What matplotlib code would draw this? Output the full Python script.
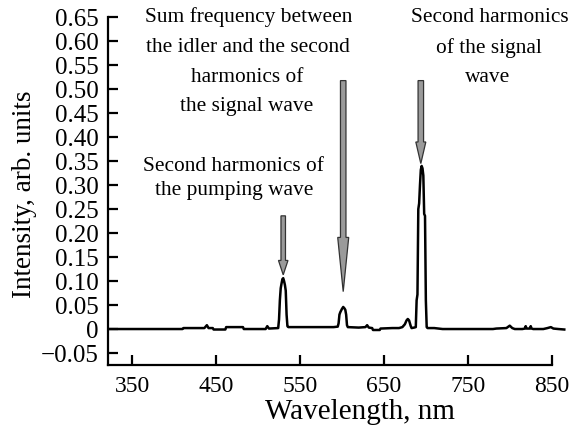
import matplotlib
matplotlib.use("Agg")
import matplotlib.pyplot as plt
from matplotlib.patches import Polygon
import numpy as np

plt.rcParams['font.family'] = ['Liberation Serif', 'DejaVu Serif']
plt.rcParams['mathtext.fontset'] = 'stix'

# Spectrum (wavelength nm, intensity arb. units)
wavelength = [322, 410, 411, 436, 439, 441, 446, 447, 461, 462, 482, 483, 509, 511, 513,
              524, 525, 526, 527, 528, 529, 530, 531, 532, 533, 534, 535, 536,
              560, 590, 595, 596, 597, 598, 600, 601.5, 603, 604, 605, 606, 607,
              620, 628, 630, 632, 636, 637, 645, 646, 660, 668, 672, 675, 677, 678.5, 680, 682, 683,
              686, 688, 689, 690, 691, 692, 693, 694, 695, 696, 697, 698, 699, 700, 701, 702,
              710, 720, 760, 780, 784, 796, 800, 803, 806, 815, 818, 819, 820, 822, 824, 825, 826,
              828, 840, 845, 849, 852, 858, 865]
intensity = [0.000, 0.000, 0.002, 0.002, 0.008, 0.002, 0.002, -0.001, -0.001, 0.004, 0.004, 0.000, 0.000, 0.006, 0.001,
             0.002, 0.020, 0.060, 0.085, 0.095, 0.104, 0.106, 0.100, 0.092, 0.080, 0.030, 0.006, 0.004,
             0.004, 0.004, 0.005, 0.012, 0.030, 0.035, 0.042, 0.046, 0.043, 0.040, 0.030, 0.008, 0.004,
             0.003, 0.004, 0.008, 0.003, 0.002, -0.002, -0.002, 0.001, 0.002, 0.002, 0.004, 0.010, 0.018, 0.021, 0.018, 0.006, 0.002,
             0.003, 0.004, 0.060, 0.072, 0.250, 0.262, 0.300, 0.332, 0.340, 0.335, 0.320, 0.240, 0.236, 0.060, 0.004, 0.002,
             0.002, 0.000, 0.000, 0.000, 0.001, 0.002, 0.007, 0.002, 0.000, 0.000, 0.001, 0.006, 0.001, 0.001, 0.001, 0.006, 0.001,
             0.000, 0.000, 0.002, 0.004, 0.001, 0.000, -0.001]

x_ticks = [350, 450, 550, 650, 750, 850]
y_ticks = [-0.05, 0.00, 0.05, 0.10, 0.15, 0.20, 0.25, 0.30, 0.35, 0.40, 0.45, 0.50, 0.55, 0.60, 0.65]
y_ticklabels = ['\u22120.05', '0', '0.05', '0.10', '0.15', '0.20', '0.25', '0.30', '0.35',
                '0.40', '0.45', '0.50', '0.55', '0.60', '0.65']

# Arrows: x position (nm), tail top, head start, tip (intensity units), shaft width px, head width px
arrow_x = [530, 601.5, 694]
arrow_top = [0.236, 0.518, 0.518]
arrow_head = [0.143, 0.191, 0.390]
arrow_tip = [0.113, 0.078, 0.345]
arrow_shaft_px = [4.5, 5.5, 5.5]
arrow_headw_px = [9.5, 11, 10]

fig = plt.figure(figsize=(5.73, 4.38), dpi=100)
W, H = 573, 438
left_px, right_px, top_px, bot_px = 108.3, 566.8, 17.3, 365
ax = fig.add_axes([left_px / W, 1 - bot_px / H, (right_px - left_px) / W, (bot_px - top_px) / H])

ax.plot(wavelength, intensity, color='black', lw=1.8, solid_joinstyle='round')

ax.set_xlim(321.5, 868)
ax.set_ylim(-0.075, 0.65)
ax.spines['top'].set_visible(False)
ax.spines['right'].set_visible(False)
ax.spines['bottom'].set_bounds(321.5, 850)
ax.spines['left'].set_linewidth(1.6)
ax.spines['bottom'].set_linewidth(1.6)
ax.set_xticks(x_ticks)
ax.set_yticks(y_ticks)
ax.set_yticklabels(y_ticklabels)
ax.tick_params(direction='in', length=7, width=1.6, colors='black')
ax.tick_params(axis='x', pad=8, labelsize=17)
ax.tick_params(axis='y', pad=7, labelsize=18)

ax.set_xlabel('Wavelength, nm', fontsize=21)
ax.xaxis.set_label_coords(0.549, -0.099)
ax.set_ylabel('Intensity, arb. units', fontsize=19.5)
ax.yaxis.set_label_coords(-0.155, 0.49)

# arrows
xpx = (right_px - left_px) / (868 - 321.5)
for xa, yt, yh, ytip, sw, hw in zip(arrow_x, arrow_top, arrow_head, arrow_tip, arrow_shaft_px, arrow_headw_px):
    s = sw / 2 / xpx
    h = hw / 2 / xpx
    pts = [(xa - s, yt), (xa + s, yt), (xa + s, yh), (xa + h, yh), (xa, ytip),
           (xa - h, yh), (xa - s, yh)]
    ax.add_patch(Polygon(pts, closed=True, facecolor='#9a9a9a', edgecolor='#333333', lw=0.9, zorder=3))

def ftext(xp, yp, s, size=15.4):
    fig.text(xp / W, 1 - yp / H, s, ha='center', va='center', fontsize=size)

ftext(249, 17, 'Sum frequency between')
ftext(248, 47.5, 'the idler and the second')
ftext(247, 77, 'harmonics of')
ftext(247, 107, 'the signal wave')
ftext(233, 166.5, 'Second harmonics of')
ftext(234, 190, 'the pumping wave')
ftext(490, 18, 'Second harmonics')
ftext(489, 48, 'of the signal')
ftext(488, 77, 'wave')

fig.savefig('out.png', dpi=100)
